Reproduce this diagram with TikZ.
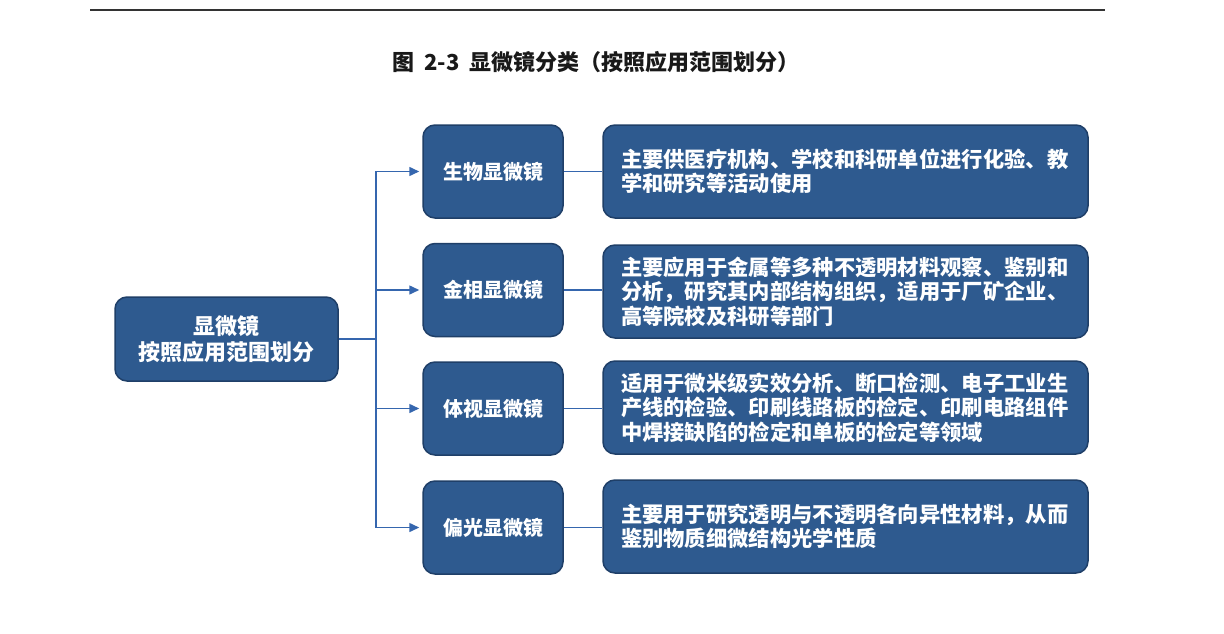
\documentclass[tikz,border=0pt]{standalone}
\usepackage{fontspec}
\setmainfont{Noto Sans CJK SC}
\newfontfamily\cjk{Noto Sans CJK SC}
\usetikzlibrary{arrows.meta}
\definecolor{boxfill}{HTML}{2E5A8F}
\definecolor{boxline}{HTML}{1F3F68}
\definecolor{conncol}{HTML}{3566AE}
\tikzset{
  blbox/.style={draw=boxline, line width=1.5pt, fill=boxfill, rounded corners=12pt,
    text=white, font=\cjk\bfseries\fontsize{20}{24}\selectfont, inner sep=0pt, align=center},
  catbox/.style={blbox, minimum width=140pt, minimum height=93pt},
  descbox/.style={blbox, minimum width=485pt, minimum height=93pt, text width=449pt,
    inner xsep=18pt, align=left, font=\cjk\bfseries\fontsize{21.3}{24.5}\selectfont},
  conn/.style={draw=conncol, line width=1.5pt},
  arr/.style={conn, -{Triangle[length=10pt,width=9pt]}, shorten >=3pt}
}
\begin{document}
\begin{tikzpicture}[x=1pt,y=-1pt]
\useasboundingbox[fill=white] (0,0) rectangle (1224,634);
\coordinate (tl) at (90,10);
\coordinate (tr) at (1105,10);
\draw[line width=1.5pt, draw=black!80] (tl) -- (tr);
\node[font=\cjk\bfseries\fontsize{22}{26}\selectfont, text=black!90] (title) at (596,62) {图\ \ 2-3\ \ 显微镜分类（按照应用范围划分）};

\node[blbox, minimum width=223pt, minimum height=84pt, font=\cjk\bfseries\fontsize{22}{26}\selectfont] (root) at (226.5,339) {显微镜\\按照应用范围划分};

\node[catbox] (c1) at (493,171.5) {生物显微镜};
\node[catbox] (c2) at (493,290) {金相显微镜};
\node[catbox] (c3) at (493,408.5) {体视显微镜};
\node[catbox] (c4) at (493,527.5) {偏光显微镜};

\node[descbox] (d1) at (845.5,171.5) {主要供医疗机构、学校和科研单位进行化验、教\\学和研究等活动使用};
\node[descbox] (d2) at (845.5,291.5) {主要应用于金属等多种不透明材料观察、鉴别和\\分析，研究其内部结构组织，适用于厂矿企业、\\高等院校及科研等部门};
\node[descbox] (d3) at (845.5,407.5) {适用于微米级实效分析、断口检测、电子工业生\\产线的检验、印刷线路板的检定、印刷电路组件\\中焊接缺陷的检定和单板的检定等领域};
\node[descbox] (d4) at (845.5,526.5) {主要用于研究透明与不透明各向异性材料，从而\\鉴别物质细微结构光学性质};

\coordinate (bus) at (376,339);
\draw[conn] (root.east) -- (bus);
\draw[arr] (bus) |- (c1.west);
\draw[arr] (bus) |- (c2.west);
\draw[arr] (bus) |- (c3.west);
\draw[arr] (bus) |- (c4.west);

\draw[conn] (c1.east) -- (c1.east -| d1.west);
\draw[conn] (c2.east) -- (c2.east -| d2.west);
\draw[conn] (c3.east) -- (c3.east -| d3.west);
\draw[conn] (c4.east) -- (c4.east -| d4.west);
\end{tikzpicture}
\end{document}
